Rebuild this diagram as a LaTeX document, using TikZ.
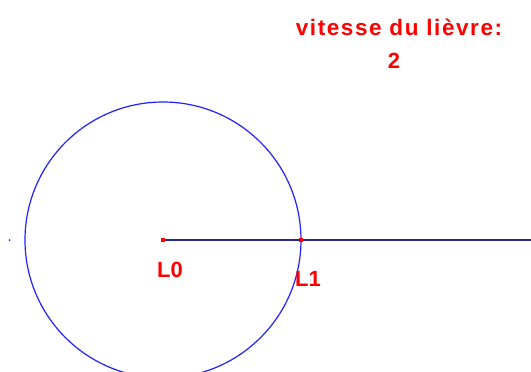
\documentclass[tikz,border=0pt]{standalone}
\usepackage{fontspec}
\setmainfont{Liberation Sans}
\definecolor{harered}{RGB}{255,0,0}
\definecolor{circblue}{RGB}{30,30,255}
\definecolor{lineblue}{RGB}{40,40,150}
\begin{document}
\begin{tikzpicture}[x=1pt, y=-1pt, font=\bfseries\fontsize{22}{26}\selectfont]
\useasboundingbox (0,0) rectangle (531,372);
\coordinate (L0) at (163,240);
\coordinate (L1) at (301,240);
\coordinate (end) at (531,240);
\draw[circblue, line width=1.2pt] (L0) circle[radius=138];
\draw[lineblue, line width=1.6pt] (L0) -- (end);
\fill[harered] (L0) ++(-2,-2) rectangle ++(4,4);
\fill[harered] (L1) ++(-2,-2) rectangle ++(4,4);
\fill[circblue] (9.5,240) circle[radius=1];
\node[text=harered] (l0) at (170,270) {L0};
\node[text=harered] (l1) at (308,279) {L1};
\node[text=harered, font=\bfseries\fontsize{22.5}{26}\selectfont\addfontfeature{LetterSpace=7}] (title) at (399,27) {vitesse du lièvre:};
\node[text=harered] (speed) at (394,61) {2};
\end{tikzpicture}
\end{document}
